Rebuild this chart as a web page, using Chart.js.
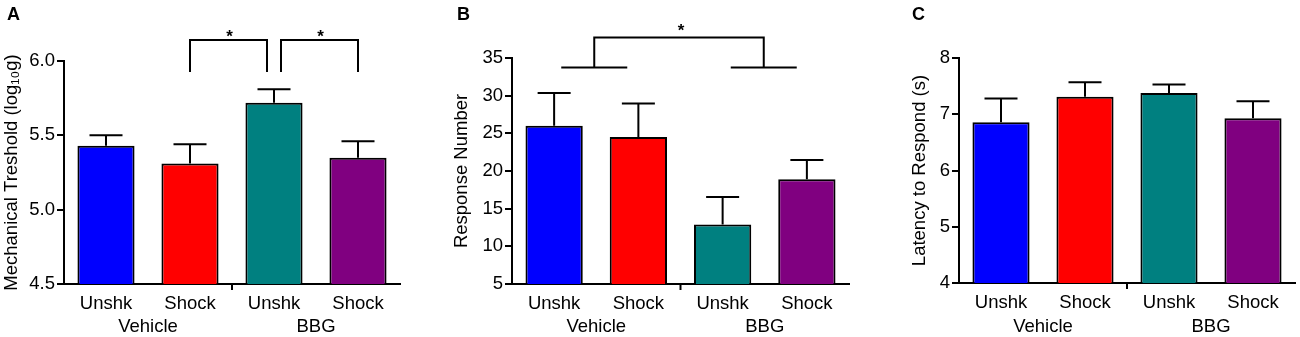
<!DOCTYPE html>
<html><head><meta charset="utf-8">
<script src="https://cdn.jsdelivr.net/npm/chart.js@4.4.1/dist/chart.umd.min.js"></script>
<style>
html,body{margin:0;padding:0;background:#fff;}
#wrap{position:relative;width:1300px;height:337px;overflow:hidden;background:#fff;}
canvas{position:absolute;top:0;}
</style></head><body>
<div id="wrap">
<canvas id="cA" width="430" height="337" style="left:0px"></canvas>
<canvas id="cB" width="430" height="337" style="left:430px"></canvas>
<canvas id="cC" width="440" height="337" style="left:860px"></canvas>
</div>
<script>
// ---- data ----
const categories = ['Unshk', 'Shock', 'Unshk', 'Shock'];
const groupLabels = ['Vehicle', 'BBG'];

const thresholdMeans = [5.43, 5.31, 5.72, 5.35];
const thresholdSEM   = [0.07, 0.13, 0.09, 0.11];
const thresholdTicks = [4.5, 5.0, 5.5, 6.0];

const responseMeans = [26.0, 24.5, 12.9, 18.9];
const responseSEM   = [4.35, 4.45, 3.65, 2.55];
const responseTicks = [5, 10, 15, 20, 25, 30, 35];

const latencyMeans = [6.86, 7.31, 7.38, 6.93];
const latencySEM   = [0.42, 0.26, 0.15, 0.30];
const latencyTicks = [4, 5, 6, 7, 8];

const barColors = ['#0000FF', '#FF0000', '#008080', '#800080'];
const FONT = '"Liberation Sans", Arial, Helvetica, sans-serif';
const FS = 18.5;

Chart.defaults.color = '#000';
Chart.defaults.font.family = FONT;
Chart.defaults.font.size = FS;

const decor = {
  id: 'decor',
  afterDatasetsDraw(chart, args, opts) {
    const ctx = chart.ctx, x = chart.scales.x, y = chart.scales.y, area = chart.chartArea;
    const ds = chart.data.datasets[0];
    ctx.save();
    ctx.strokeStyle = '#000';
    ctx.lineWidth = 2;
    ctx.lineCap = 'butt';
    // error bars (upper only)
    ds.data.forEach((v, i) => {
      const cx = x.getPixelForValue(i);
      const y0 = y.getPixelForValue(v);
      const y1 = y.getPixelForValue(v + opts.sem[i]);
      ctx.beginPath();
      ctx.moveTo(cx, y0); ctx.lineTo(cx, y1);
      ctx.moveTo(cx - 16.5, y1); ctx.lineTo(cx + 16.5, y1);
      ctx.stroke();
    });
    // group separator tick
    const mid = (x.getPixelForValue(1) + x.getPixelForValue(2)) / 2;
    ctx.beginPath();
    ctx.moveTo(mid, area.bottom); ctx.lineTo(mid, area.bottom + 6);
    ctx.stroke();
    // group labels
    ctx.fillStyle = '#000';
    ctx.font = FS + 'px ' + FONT;
    ctx.textAlign = 'center';
    ctx.textBaseline = 'alphabetic';
    groupLabels.forEach((g, k) => {
      const gx = (x.getPixelForValue(2 * k) + x.getPixelForValue(2 * k + 1)) / 2;
      ctx.fillText(g, gx, 332);
    });
    // panel letter
    ctx.font = 'bold 18px ' + FONT;
    ctx.textAlign = 'left';
    ctx.fillText(opts.letter, opts.letterX, 20);
    // significance brackets
    if (opts.brackets) opts.brackets(ctx, x, y, area);
    ctx.restore();
  }
};

function star(ctx, cx, baseY) {
  ctx.font = 'bold 17px ' + FONT;
  ctx.textAlign = 'center';
  ctx.textBaseline = 'alphabetic';
  ctx.fillText('*', cx, baseY);
}

function bracketsA(ctx, x, y, area) {
  const top = area.top - 21, leg = area.top + 11;
  const pairs = [[1, 2, 0, -7], [2, 3, 7, 0]];
  pairs.forEach(([a, b, da, db]) => {
    const xa = x.getPixelForValue(a) + da, xb = x.getPixelForValue(b) + db;
    ctx.beginPath();
    ctx.moveTo(xa, leg); ctx.lineTo(xa, top); ctx.lineTo(xb, top); ctx.lineTo(xb, leg);
    ctx.stroke();
    star(ctx, (xa + xb) / 2 + 1, top + 1.5);
  });
}

function bracketsB(ctx, x, y, area) {
  const top = area.top - 20.5, low = area.top + 9.5;
  const g1 = (x.getPixelForValue(0) + x.getPixelForValue(1)) / 2 - 2;
  const g2 = (x.getPixelForValue(2) + x.getPixelForValue(3)) / 2 - 1;
  ctx.beginPath();
  ctx.moveTo(g1 - 33, low); ctx.lineTo(g1 + 33, low);
  ctx.moveTo(g2 - 33, low); ctx.lineTo(g2 + 33, low);
  ctx.moveTo(g1, low); ctx.lineTo(g1, top); ctx.lineTo(g2, top); ctx.lineTo(g2, low);
  ctx.stroke();
  star(ctx, (g1 + g2) / 2 + 2, top - 1.5);
}

function makeChart(id, cfg) {
  return new Chart(document.getElementById(id), {
    type: 'bar',
    data: {
      labels: categories,
      datasets: [{
        data: cfg.means,
        backgroundColor: barColors,
        borderColor: '#000',
        borderWidth: 2,
        borderSkipped: false,
        barPercentage: 0.68,
        categoryPercentage: 1.0
      }]
    },
    options: {
      responsive: false,
      animation: false,
      events: [],
      layout: { padding: { top: cfg.top, right: cfg.right, left: 0, bottom: 0 } },
      plugins: {
        legend: { display: false },
        tooltip: { enabled: false },
        decor: { sem: cfg.sem, letter: cfg.letter, letterX: cfg.letterX, brackets: cfg.brackets }
      },
      scales: {
        x: {
          grid: { display: false, drawTicks: false },
          border: { display: true, color: '#000', width: 2 },
          ticks: { padding: 9, color: '#000', font: { size: FS }, maxRotation: 0, autoSkip: false },
          afterFit(s) { s.height = 337 - cfg.bottom; s.paddingLeft = 0; s.paddingRight = 0; s.paddingTop = 0; s.paddingBottom = 0; }
        },
        y: {
          min: cfg.ticks[0],
          max: cfg.ticks[cfg.ticks.length - 1],
          afterBuildTicks(s) { s.ticks = cfg.ticks.map(v => ({ value: v })); },
          grid: { display: true, drawOnChartArea: false, drawTicks: true, tickLength: 7, color: '#000', lineWidth: 2 },
          border: { display: true, color: '#000', width: 2 },
          ticks: { padding: 2, color: '#000', font: { size: FS }, callback: cfg.fmt },
          title: { display: true, text: cfg.title, color: '#000', font: { size: FS }, padding: { top: cfg.titlePad, bottom: 0 } },
          afterFit(s) { s.width = cfg.left; s.paddingTop = 0; s.paddingBottom = 0; s.paddingLeft = 0; s.paddingRight = 0; }
        }
      }
    },
    plugins: [decor]
  });
}

makeChart('cA', {
  means: thresholdMeans, sem: thresholdSEM, ticks: thresholdTicks,
  fmt: v => Number(v).toFixed(1),
  title: 'Mechanical Treshold (log\u2081\u2080g)',
  letter: 'A', letterX: 7, brackets: bracketsA,
  left: 64, right: 30, top: 61, bottom: 284, titlePad: 1
});
makeChart('cB', {
  means: responseMeans, sem: responseSEM, ticks: responseTicks,
  fmt: v => String(v),
  title: 'Response Number',
  letter: 'B', letterX: 27, brackets: bracketsB,
  left: 82, right: 11, top: 58, bottom: 284, titlePad: 21
});
makeChart('cC', {
  means: latencyMeans, sem: latencySEM, ticks: latencyTicks,
  fmt: v => String(v),
  title: 'Latency to Respond (s)',
  letter: 'C', letterX: 52, brackets: null,
  left: 99, right: 5, top: 58, bottom: 283, titlePad: 49
});
</script>
</body></html>
